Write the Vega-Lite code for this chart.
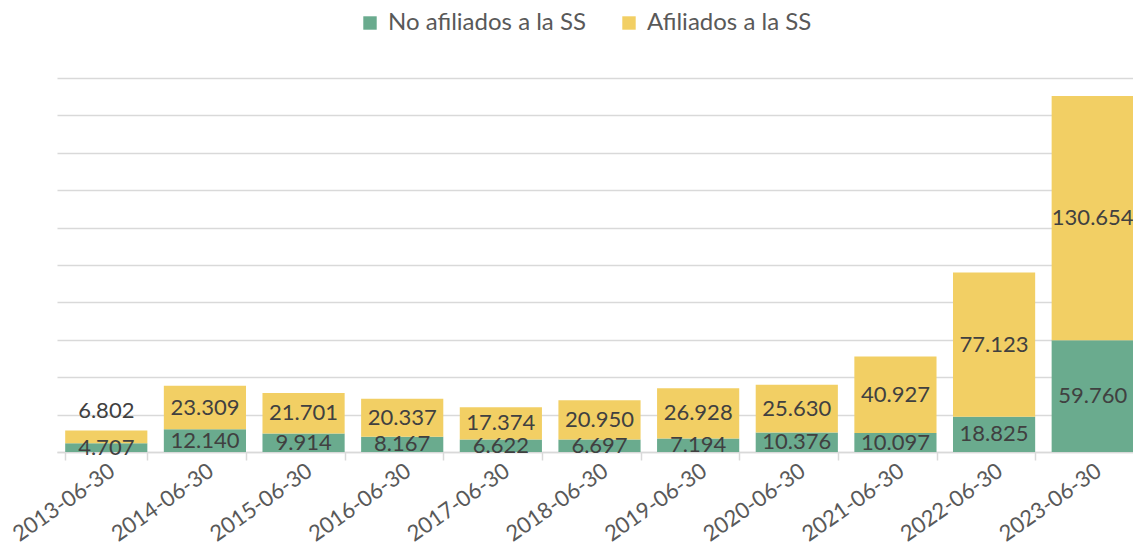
{
  "$schema": "https://vega.github.io/schema/vega-lite/v6.json",
  "autosize": "none",
  "width": 1085,
  "height": 374,
  "padding": {"left": 57, "top": 78, "right": 0, "bottom": 93},
  "background": "white",
  "config": {
    "locale": {"number": {"decimal": ",", "thousands": ".", "grouping": [3], "currency": ["", " €"]}},
    "font": "Lato",
    "view": {"stroke": null}
  },
  "data": {
    "values": [
      {"fecha": "2013-06-30", "serie": "No afiliados a la SS", "valor": 4707},
      {"fecha": "2013-06-30", "serie": "Afiliados a la SS", "valor": 6802},
      {"fecha": "2014-06-30", "serie": "No afiliados a la SS", "valor": 12140},
      {"fecha": "2014-06-30", "serie": "Afiliados a la SS", "valor": 23309},
      {"fecha": "2015-06-30", "serie": "No afiliados a la SS", "valor": 9914},
      {"fecha": "2015-06-30", "serie": "Afiliados a la SS", "valor": 21701},
      {"fecha": "2016-06-30", "serie": "No afiliados a la SS", "valor": 8167},
      {"fecha": "2016-06-30", "serie": "Afiliados a la SS", "valor": 20337},
      {"fecha": "2017-06-30", "serie": "No afiliados a la SS", "valor": 6622},
      {"fecha": "2017-06-30", "serie": "Afiliados a la SS", "valor": 17374},
      {"fecha": "2018-06-30", "serie": "No afiliados a la SS", "valor": 6697},
      {"fecha": "2018-06-30", "serie": "Afiliados a la SS", "valor": 20950},
      {"fecha": "2019-06-30", "serie": "No afiliados a la SS", "valor": 7194},
      {"fecha": "2019-06-30", "serie": "Afiliados a la SS", "valor": 26928},
      {"fecha": "2020-06-30", "serie": "No afiliados a la SS", "valor": 10376},
      {"fecha": "2020-06-30", "serie": "Afiliados a la SS", "valor": 25630},
      {"fecha": "2021-06-30", "serie": "No afiliados a la SS", "valor": 10097},
      {"fecha": "2021-06-30", "serie": "Afiliados a la SS", "valor": 40927},
      {"fecha": "2022-06-30", "serie": "No afiliados a la SS", "valor": 18825},
      {"fecha": "2022-06-30", "serie": "Afiliados a la SS", "valor": 77123},
      {"fecha": "2023-06-30", "serie": "No afiliados a la SS", "valor": 59760},
      {"fecha": "2023-06-30", "serie": "Afiliados a la SS", "valor": 130654}
    ]
  },
  "encoding": {
    "x": {
      "field": "fecha",
      "type": "nominal",
      "title": null,
      "scale": {"paddingInner": 0.167, "paddingOuter": 0.083},
      "axis": {
        "labelAngle": -35,
        "labelFontSize": 22,
        "labelColor": "#595959",
        "labelPadding": 0,
        "domainColor": "#d9d9d9",
        "domainWidth": 1.5,
        "tickColor": "#d9d9d9",
        "tickWidth": 1.5,
        "tickSize": 8,
        "tickBand": "extent",
        "grid": false
      }
    },
    "y": {
      "field": "valor",
      "type": "quantitative",
      "aggregate": "sum",
      "stack": "zero",
      "title": null,
      "scale": {"domain": [0, 200000], "nice": false},
      "axis": {
        "values": [0, 20000, 40000, 60000, 80000, 100000, 120000, 140000, 160000, 180000, 200000],
        "labels": false,
        "ticks": false,
        "domain": false,
        "grid": true,
        "gridColor": "#d9d9d9",
        "gridWidth": 1.5
      }
    },
    "order": {"field": "serie", "sort": "descending"}
  },
  "layer": [
    {
      "mark": {"type": "bar"},
      "encoding": {
        "color": {
          "field": "serie",
          "type": "nominal",
          "scale": {"domain": ["No afiliados a la SS", "Afiliados a la SS"], "range": ["#6aab8e", "#f2cf64"]},
          "legend": {
            "title": null,
            "orient": "none",
            "direction": "horizontal",
            "legendX": 301,
            "legendY": -67,
            "symbolType": "square",
            "symbolSize": 180,
            "symbolStrokeWidth": 0,
            "labelFontSize": 24,
            "labelColor": "#595959",
            "labelLimit": 400,
            "columnPadding": 31,
            "symbolOffset": 0,
            "labelOffset": 6
          }
        }
      }
    },
    {
      "transform": [{"filter": "!(datum.fecha === '2013-06-30' && datum.serie === 'Afiliados a la SS')"}],
      "mark": {"type": "text", "fontSize": 22, "color": "#404040", "baseline": "middle"},
      "encoding": {
        "y": {
          "field": "valor",
          "type": "quantitative",
          "aggregate": "sum",
          "stack": "zero",
          "bandPosition": 0.5
        },
        "text": {"field": "valor", "type": "quantitative", "aggregate": "sum", "format": ",d"}
      }
    },
    {
      "transform": [{"filter": "datum.fecha === '2013-06-30'"}],
      "mark": {"type": "text", "fontSize": 22, "color": "#404040", "baseline": "bottom", "dy": -7},
      "encoding": {
        "y": {
          "field": "valor",
          "type": "quantitative",
          "aggregate": "sum",
          "stack": "zero"
        },
        "text": {
          "condition": {"test": "datum.serie === 'Afiliados a la SS'", "field": "valor", "type": "quantitative", "aggregate": "sum", "format": ",d"},
          "value": ""
        }
      }
    }
  ]
}
